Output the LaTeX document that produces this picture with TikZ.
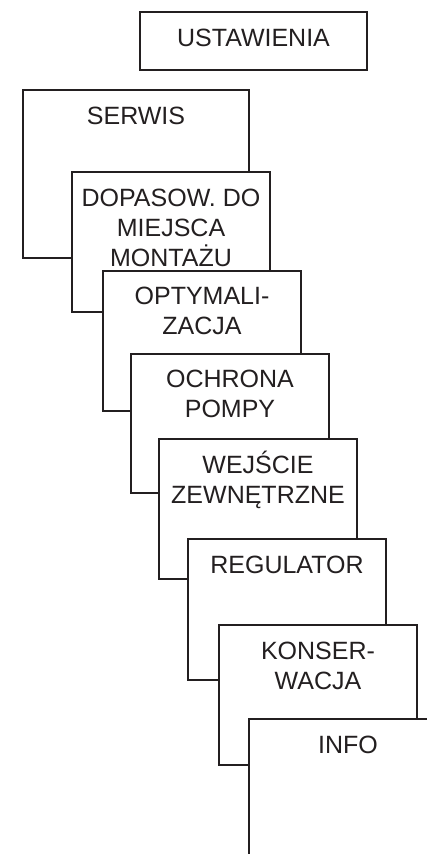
\documentclass[tikz,border=0pt]{standalone}
\usepackage{fontspec}
\setmainfont{Liberation Sans}
\usepackage{xcolor}
\usepackage{tikz}
\definecolor{ink}{RGB}{35, 31, 32}

\begin{document}
\begin{tikzpicture}[x=0.5pt,y=-0.5pt,
  menubox/.style={draw=ink,line width=0.65pt,fill=white},
  menutext/.style={anchor=base,align=center,inner sep=0pt,text=ink,
    font=\fontsize{12.5}{15}\selectfont}]
\useasboundingbox (0,0) rectangle (427,854);
\clip (0,0) rectangle (427,854);
% base of a multi-line label is its last line
\draw[menubox] (140,12) rectangle (367,70);
\node[menutext] (ustaw) at (253.5,47) {USTAWIENIA};
\draw[menubox] (23,90) rectangle (249,258);
\node[menutext] (serwis) at (136,125) {SERWIS};
\draw[menubox] (72,172) rectangle (270,312);
\node[menutext] (dopas) at (171,267) {DOPASOW. DO\\MIEJSCA\\MONTAŻU};
\draw[menubox] (103,271) rectangle (301,411);
\node[menutext] (optym) at (202,335) {OPTYMALI-\\ZACJA};
\draw[menubox] (131,354) rectangle (329,493);
\node[menutext] (ochrona) at (230,417) {OCHRONA\\POMPY};
\draw[menubox] (159,439) rectangle (357,579);
\node[menutext] (wejscie) at (258,503) {WEJŚCIE\\ZEWNĘTRZNE};
\draw[menubox] (188,539) rectangle (386,680);
\node[menutext] (regul) at (287,573) {REGULATOR};
\draw[menubox] (219,625) rectangle (417,765);
\node[menutext] (konser) at (318,689) {KONSER-\\WACJA};
\draw[menubox] (249,719) rectangle (447,900);
\node[menutext] (info) at (348,753) {INFO};
\end{tikzpicture}
\end{document}
